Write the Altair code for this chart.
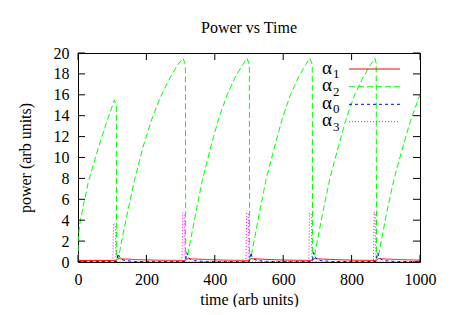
import altair as alt
import pandas as pd

FONT = "Liberation Serif"

# ---- data ----
series_names = ["α1", "α2", "α0", "α3"]
series_colors = ["#ff0000", "#00ff00", "#0000ff", "#ff00ff"]
series_dash = [[1, 0], [6, 3], [3, 3], [1, 2]]

green_x = [0, 1, 5, 15, 30, 50, 70, 85, 100, 106, 112, 113,
           117, 119, 130, 145, 165, 190, 215, 240, 265, 290, 307, 314, 315,
           318, 320, 331, 345, 364, 388, 412, 436, 460, 482, 494, 501, 502,
           504, 506, 517, 531, 550, 573, 597, 621, 645, 666, 678, 685, 686,
           689, 691, 702, 716, 736, 760, 785, 809, 834, 856, 868, 872, 873,
           876, 878, 889, 903, 923, 947, 972, 1000]
green_y = [0.2, 2.4, 3.6, 5.3, 7.6, 9.9, 12.0, 13.5, 14.9, 15.5, 15.0, 0.3,
           0.2, 0.5, 2.4, 4.8, 7.8, 11.0, 13.6, 15.7, 17.4, 18.8, 19.5, 18.9, 0.3,
           0.2, 0.5, 2.4, 4.8, 7.9, 11.0, 13.8, 16.0, 17.7, 18.9, 19.5, 18.9, 0.3,
           0.2, 0.5, 2.4, 4.8, 7.9, 10.8, 13.7, 16.0, 17.7, 18.9, 19.5, 18.9, 0.3,
           0.2, 0.5, 2.4, 4.8, 7.9, 10.9, 13.8, 16.0, 17.7, 18.9, 19.5, 19.0, 0.3,
           0.2, 0.5, 2.4, 4.8, 7.8, 10.7, 13.5, 16.0]

red_x = [0, 112, 118, 140, 180, 240, 313, 319, 345, 390, 440, 500, 505, 530,
         575, 625, 685, 691, 715, 760, 810, 872, 878, 905, 950, 1000]
red_y = [0.15, 0.15, 0.32, 0.28, 0.22, 0.17, 0.15, 0.32, 0.28, 0.22, 0.17, 0.15,
         0.32, 0.28, 0.22, 0.17, 0.15, 0.32, 0.28, 0.22, 0.17, 0.15, 0.32, 0.28,
         0.22, 0.18]

blue_x = [0, 113, 117, 121, 127, 140, 170, 314, 318, 322, 328, 341, 370,
          501, 505, 509, 515, 528, 560, 685, 689, 693, 699, 712, 745,
          872, 876, 880, 886, 899, 930, 1000]
blue_y = [0.05, 0.05, 0.8, 0.5, 0.25, 0.12, 0.05, 0.05, 0.9, 0.5, 0.25, 0.12, 0.05,
          0.05, 0.9, 0.5, 0.25, 0.12, 0.05, 0.05, 0.9, 0.5, 0.25, 0.12, 0.05,
          0.05, 0.9, 0.5, 0.25, 0.12, 0.05, 0.05]

mag_x = [0, 2, 102, 104, 109, 111, 304, 306, 311, 313, 491, 493, 498, 500,
         675, 677, 682, 684, 864, 866, 869, 871, 1000]
mag_y = [1.3, 0.02, 0.02, 3.7, 3.6, 0.02, 0.02, 4.7, 4.6, 0.02, 0.02, 4.7, 4.6,
         0.02, 0.02, 4.7, 4.6, 0.02, 0.02, 4.8, 4.6, 0.02, 0.02]

x_ticks = [0, 200, 400, 600, 800, 1000]
y_ticks = [0, 2, 4, 6, 8, 10, 12, 14, 16, 18, 20]

legend_base = ["α", "α", "α", "α"]
legend_sub = ["1", "2", "0", "3"]

# ---- build tables ----
rows = []
for name, xs_, ys_ in [("α1", red_x, red_y), ("α2", green_x, green_y),
                       ("α0", blue_x, blue_y), ("α3", mag_x, mag_y)]:
    for i, (a, b) in enumerate(zip(xs_, ys_)):
        rows.append({"x": a, "y": b, "series": name, "i": i})
df = pd.DataFrame(rows)

W, H = 342, 209
xs = alt.Scale(domain=[0, 1000], nice=False, zero=False)
ys = alt.Scale(domain=[0, 20], nice=False, zero=False)
cs = alt.Scale(domain=series_names, range=series_colors)
ds = alt.Scale(domain=series_names, range=series_dash)

common_axis = dict(labelOverlap=False, labelFlush=False,
                   labelFont=FONT, labelFontSize=16, labelColor="black",
                   titleFont=FONT, titleFontSize=16, titleFontWeight="normal",
                   titleColor="black")
ax_x = alt.Axis(values=x_ticks, format="d", title="time (arb units)",
                labelPadding=9, titlePadding=4, **common_axis)
ax_y = alt.Axis(values=y_ticks, format="d", title="power (arb units)",
                labelPadding=9, titlePadding=20, **common_axis)

lines = alt.Chart(df).mark_line(strokeWidth=1, clip=True).encode(
    x=alt.X("x:Q", scale=xs, axis=ax_x),
    y=alt.Y("y:Q", scale=ys, axis=ax_y),
    color=alt.Color("series:N", scale=cs, legend=None),
    strokeDash=alt.StrokeDash("series:N", scale=ds, legend=None),
    detail="series:N",
    order=alt.Order("i:Q"),
)

xt = pd.DataFrame({"v": x_ticks})
yt = pd.DataFrame({"v": y_ticks})
tick_bottom = alt.Chart(xt).mark_rule(color="black").encode(
    x=alt.X("v:Q", scale=xs, axis=ax_x, title="time (arb units)"),
    y=alt.value(H), y2=alt.value(H - 7))
tick_top = alt.Chart(xt).mark_rule(color="black").encode(
    x=alt.X("v:Q", scale=xs, axis=ax_x, title="time (arb units)"),
    y=alt.value(0), y2=alt.value(7))
tick_left = alt.Chart(yt).mark_rule(color="black").encode(
    y=alt.Y("v:Q", scale=ys, axis=ax_y, title="power (arb units)"),
    x=alt.value(0), x2=alt.value(7))
tick_right = alt.Chart(yt).mark_rule(color="black").encode(
    y=alt.Y("v:Q", scale=ys, axis=ax_y, title="power (arb units)"),
    x=alt.value(W), x2=alt.value(W - 7))

leg = pd.DataFrame({
    "series": series_names,
    "base": legend_base,
    "sub": legend_sub,
    "ly": [16, 33.7, 51.3, 68.7],
})
leg["ty"] = leg["ly"] + 4.5
leg["sy"] = leg["ly"] + 9

leg_lines = alt.Chart(leg).mark_rule(strokeWidth=1).encode(
    x=alt.value(271), x2=alt.value(322),
    y=alt.Y("ly:Q", scale=None),
    color=alt.Color("series:N", scale=cs, legend=None),
    strokeDash=alt.StrokeDash("series:N", scale=ds, legend=None),
)
leg_base = alt.Chart(leg).mark_text(font=FONT, fontSize=19, align="right",
                                    baseline="alphabetic", color="black").encode(
    x=alt.value(254), y=alt.Y("ty:Q", scale=None), text="base:N")
leg_sub = alt.Chart(leg).mark_text(font=FONT, fontSize=13, align="left",
                                   baseline="alphabetic", color="black").encode(
    x=alt.value(255), y=alt.Y("sy:Q", scale=None), text="sub:N")

chart = alt.layer(
    lines, tick_bottom, tick_top, tick_left, tick_right,
    leg_lines, leg_base, leg_sub,
).properties(
    width=W, height=H,
    title=alt.TitleParams("Power vs Time", font=FONT, fontSize=16,
                          fontWeight="normal", offset=9, color="black"),
    autosize=alt.AutoSizeParams(type="none"),
    padding={"left": 70, "top": 45, "right": 22, "bottom": 45},
).configure_view(
    stroke="black", strokeWidth=1,
).configure_axis(
    domain=False, ticks=False, grid=False,
)

chart.save("out.html", embed_options={"renderer": "svg", "actions": False})
